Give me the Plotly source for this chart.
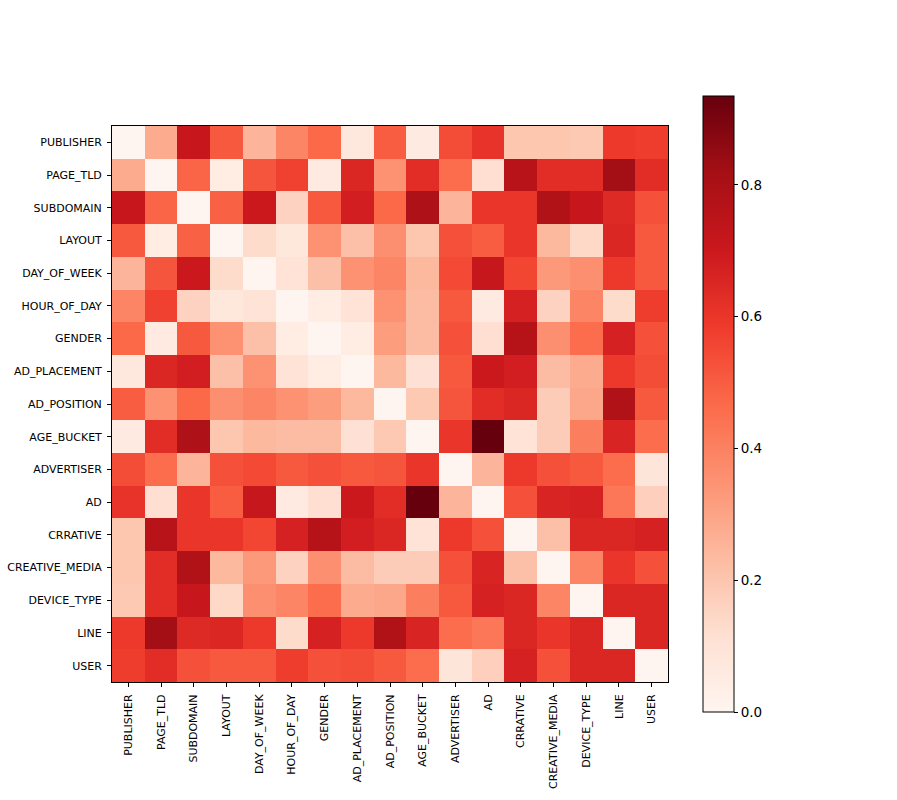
import plotly.graph_objects as go

labels = ["PUBLISHER", "PAGE_TLD", "SUBDOMAIN", "LAYOUT", "DAY_OF_WEEK", "HOUR_OF_DAY",
          "GENDER", "AD_PLACEMENT", "AD_POSITION", "AGE_BUCKET", "ADVERTISER", "AD",
          "CRRATIVE", "CREATIVE_MEDIA", "DEVICE_TYPE", "LINE", "USER"]

values = [
    [0.00, 0.28, 0.71, 0.51, 0.25, 0.39, 0.47, 0.07, 0.50, 0.06, 0.54, 0.61, 0.20, 0.20, 0.19, 0.59, 0.58],
    [0.28, 0.00, 0.48, 0.05, 0.52, 0.57, 0.06, 0.65, 0.35, 0.63, 0.46, 0.12, 0.76, 0.63, 0.63, 0.82, 0.63],
    [0.71, 0.48, 0.00, 0.49, 0.70, 0.16, 0.51, 0.68, 0.47, 0.79, 0.25, 0.60, 0.60, 0.78, 0.71, 0.64, 0.53],
    [0.51, 0.05, 0.49, 0.00, 0.13, 0.08, 0.35, 0.22, 0.36, 0.20, 0.53, 0.50, 0.60, 0.24, 0.14, 0.65, 0.51],
    [0.25, 0.52, 0.70, 0.13, 0.00, 0.10, 0.22, 0.35, 0.39, 0.24, 0.55, 0.72, 0.56, 0.33, 0.36, 0.59, 0.51],
    [0.39, 0.57, 0.16, 0.08, 0.10, 0.00, 0.05, 0.10, 0.35, 0.23, 0.51, 0.06, 0.67, 0.16, 0.39, 0.13, 0.58],
    [0.47, 0.06, 0.51, 0.35, 0.22, 0.05, 0.00, 0.05, 0.32, 0.23, 0.53, 0.12, 0.77, 0.36, 0.46, 0.67, 0.53],
    [0.07, 0.65, 0.68, 0.22, 0.35, 0.10, 0.05, 0.00, 0.24, 0.11, 0.51, 0.70, 0.68, 0.23, 0.28, 0.59, 0.54],
    [0.50, 0.35, 0.47, 0.36, 0.39, 0.35, 0.32, 0.24, 0.00, 0.19, 0.52, 0.63, 0.65, 0.18, 0.29, 0.78, 0.51],
    [0.06, 0.63, 0.79, 0.20, 0.24, 0.23, 0.23, 0.11, 0.19, 0.00, 0.60, 0.935, 0.10, 0.18, 0.41, 0.66, 0.46],
    [0.54, 0.46, 0.25, 0.53, 0.55, 0.51, 0.53, 0.51, 0.52, 0.60, 0.00, 0.25, 0.59, 0.53, 0.51, 0.46, 0.09],
    [0.61, 0.12, 0.60, 0.50, 0.72, 0.06, 0.12, 0.70, 0.63, 0.935, 0.25, 0.00, 0.53, 0.66, 0.67, 0.43, 0.17],
    [0.20, 0.76, 0.60, 0.60, 0.56, 0.67, 0.77, 0.68, 0.65, 0.10, 0.59, 0.53, 0.00, 0.22, 0.65, 0.65, 0.67],
    [0.20, 0.63, 0.78, 0.24, 0.33, 0.16, 0.36, 0.23, 0.18, 0.18, 0.53, 0.66, 0.22, 0.00, 0.39, 0.60, 0.53],
    [0.19, 0.63, 0.71, 0.14, 0.36, 0.39, 0.46, 0.28, 0.29, 0.41, 0.51, 0.67, 0.65, 0.39, 0.00, 0.65, 0.65],
    [0.59, 0.82, 0.64, 0.65, 0.59, 0.13, 0.67, 0.59, 0.78, 0.66, 0.46, 0.43, 0.65, 0.60, 0.65, 0.00, 0.65],
    [0.58, 0.63, 0.53, 0.51, 0.51, 0.58, 0.53, 0.54, 0.51, 0.46, 0.09, 0.17, 0.67, 0.53, 0.65, 0.65, 0.00],
]

cbar_ticks = [0.0, 0.2, 0.4, 0.6, 0.8]
cbar_ticktext = ["0.0", "0.2", "0.4", "0.6", "0.8"]

reds = [
    [0.0, "rgb(255,245,240)"], [0.125, "rgb(254,224,210)"], [0.25, "rgb(252,187,161)"],
    [0.375, "rgb(252,146,114)"], [0.5, "rgb(251,106,74)"], [0.625, "rgb(239,59,44)"],
    [0.75, "rgb(203,24,29)"], [0.875, "rgb(165,15,21)"], [1.0, "rgb(103,0,13)"],
]

zmax = max(max(r) for r in values)
zmin = min(min(r) for r in values)

fig = go.Figure(go.Heatmap(
    z=values, x=labels, y=labels, colorscale=reds, zmin=zmin, zmax=zmax,
    colorbar=dict(
        x=(703 - 112) / 556, xanchor="left", xpad=0,
        y=1 - (404 - 126) / 556, yanchor="middle", ypad=0,
        len=616, lenmode="pixels",
        thickness=31, thicknessmode="pixels",
        outlinewidth=1, outlinecolor="black",
        tickvals=cbar_ticks, ticktext=cbar_ticktext,
        ticks="outside", ticklen=4, tickcolor="black",
        tickfont=dict(family="DejaVu Sans", size=13.5, color="black"),
    ),
))

axis_common = dict(
    showline=True, linecolor="black", linewidth=1, mirror=True,
    ticks="outside", ticklen=4, tickcolor="black", showgrid=False, zeroline=False,
    ticklabelstandoff=3, automargin=False,
    tickfont=dict(family="DejaVu Sans", size=11, color="black"),
)
fig.update_xaxes(tickangle=-90, **axis_common)
fig.update_yaxes(autorange="reversed", **axis_common)

fig.update_layout(
    width=897, height=800,
    margin=dict(l=112, r=229, t=126, b=118, autoexpand=False),
    paper_bgcolor="white", plot_bgcolor="white",
    font=dict(family="DejaVu Sans", color="black"),
)

fig.write_html("out.html")
